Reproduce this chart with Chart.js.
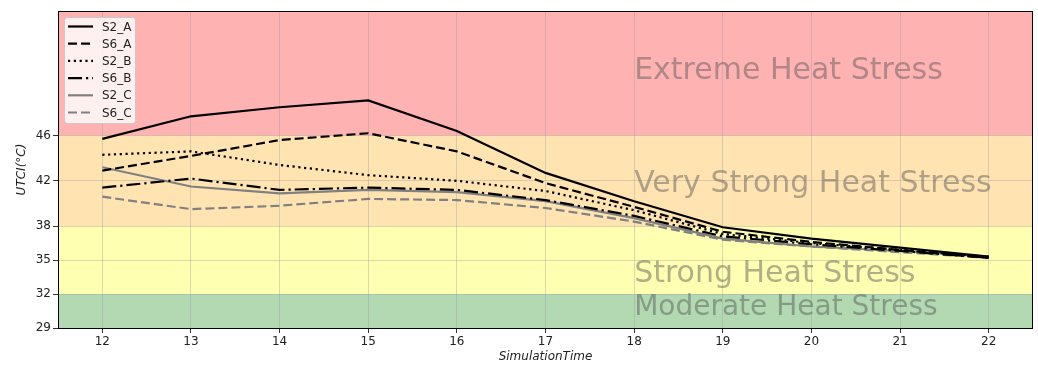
<!DOCTYPE html>
<html lang="en">
<head>
    <meta charset="UTF-8">
    <title>UTCI over simulation time</title>
    <script src="https://cdn.jsdelivr.net/npm/chart.js"></script>
    <style>
        html, body { margin: 0; padding: 0; background: #fff; }
        #box { width: 1038px; height: 365px; }
    </style>
</head>
<body>
    <div id="box"><canvas id="utciChart"></canvas></div>

    <script>
        // simulation hours
        var hours = [12, 13, 14, 15, 16, 17, 18, 19, 20, 21, 22];

        // UTCI (°C) per scenario
        var s2A = [45.7, 47.7, 48.5, 49.1, 46.4, 42.7, 40.2, 37.9, 36.9, 36.1, 35.3];
        var s6A = [42.9, 44.2, 45.6, 46.2, 44.6, 41.8, 39.7, 37.5, 36.6, 35.9, 35.2];
        var s2B = [44.3, 44.6, 43.4, 42.5, 42.0, 41.1, 39.4, 37.3, 36.5, 35.9, 35.3];
        var s6B = [41.4, 42.2, 41.2, 41.4, 41.2, 40.3, 38.9, 37.1, 36.4, 35.8, 35.2];
        var s2C = [43.2, 41.5, 40.9, 41.2, 41.0, 40.2, 38.7, 36.9, 36.2, 35.8, 35.3];
        var s6C = [40.6, 39.5, 39.8, 40.4, 40.3, 39.6, 38.4, 36.8, 36.2, 35.7, 35.2];

        var yTicks = [29, 32, 35, 38, 42, 46];

        // heat stress zones (lower, upper) and their names
        var zoneLow  = [29, 32, 38, 46];
        var zoneHigh = [32, 38, 46, 57];
        var zoneNames = ['Moderate Heat Stress', 'Strong Heat Stress', 'Very Strong Heat Stress', 'Extreme Heat Stress'];
        var zoneLabelY = [30.15, 33.1, 41, 51];
        var zoneLabelX = 18;
        var zoneFontPx = [28, 30, 30, 30];
        var zoneColors = ['rgba(0,128,0,0.3)', 'rgba(255,255,0,0.3)', 'rgba(255,165,0,0.3)', 'rgba(255,0,0,0.3)'];

        function pts(vals) {
            return hours.map(function (h, i) { return { x: h, y: vals[i] }; });
        }

        function serie(label, vals, color, dash) {
            return {
                label: label,
                data: pts(vals),
                borderColor: color,
                borderDash: dash,
                borderWidth: 2.2,
                pointRadius: 0,
                tension: 0,
                fill: false
            };
        }

        var zonesPlugin = {
            id: 'zones',
            beforeDraw: function (chart) {
                var ctx = chart.ctx, a = chart.chartArea, y = chart.scales.y;
                ctx.save();
                for (var i = 0; i < zoneLow.length; i++) {
                    var top = y.getPixelForValue(zoneHigh[i]);
                    var bot = y.getPixelForValue(zoneLow[i]);
                    ctx.fillStyle = zoneColors[i];
                    ctx.fillRect(a.left, top, a.right - a.left, bot - top);
                }
                ctx.restore();
            },
            afterDatasetsDraw: function (chart) {
                var ctx = chart.ctx, a = chart.chartArea, x = chart.scales.x, y = chart.scales.y;
                ctx.save();
                ctx.fillStyle = 'rgba(80,80,80,0.45)';
                ctx.textAlign = 'left';
                ctx.textBaseline = 'alphabetic';
                for (var i = 0; i < zoneNames.length; i++) {
                    ctx.font = zoneFontPx[i] + 'px "DejaVu Sans"';
                    ctx.fillText(zoneNames[i], x.getPixelForValue(zoneLabelX), y.getPixelForValue(zoneLabelY[i]));
                }
                // frame
                ctx.strokeStyle = '#000';
                ctx.lineWidth = 1;
                ctx.strokeRect(Math.round(a.left) + 0.5, Math.round(a.top) + 0.5,
                    Math.round(a.right - a.left) - 1, Math.round(a.bottom - a.top));
                ctx.restore();
            },
            afterDraw: function (chart) {
                // legend box, top left inside plot
                var ctx = chart.ctx, a = chart.chartArea;
                var bx = a.left + 6, by = a.top + 6, bw = 71, bh = 106;
                ctx.save();
                ctx.fillStyle = 'rgba(255,255,255,0.8)';
                ctx.strokeStyle = 'rgba(200,200,200,0.9)';
                ctx.lineWidth = 1;
                ctx.beginPath();
                ctx.roundRect(bx + 0.5, by + 0.5, bw, bh, 3);
                ctx.fill();
                ctx.stroke();
                ctx.font = '12px "DejaVu Sans"';
                ctx.textBaseline = 'middle';
                chart.data.datasets.forEach(function (ds, i) {
                    var ly = by + 9.5 + i * 17.2;
                    ctx.strokeStyle = ds.borderColor;
                    ctx.lineWidth = 2.2;
                    ctx.setLineDash(ds.borderDash || []);
                    ctx.beginPath();
                    ctx.moveTo(bx + 4, ly);
                    ctx.lineTo(bx + 29, ly);
                    ctx.stroke();
                    ctx.setLineDash([]);
                    ctx.fillStyle = '#222';
                    ctx.fillText(ds.label, bx + 38, ly + 1);
                });
                ctx.restore();
            }
        };

        var ctx = document.getElementById('utciChart').getContext('2d');
        var chart = new Chart(ctx, {
            type: 'line',
            data: {
                datasets: [
                    serie('S2_A', s2A, '#000', []),
                    serie('S6_A', s6A, '#000', [9, 4]),
                    serie('S2_B', s2B, '#000', [2.2, 3.6]),
                    serie('S6_B', s6B, '#000', [14, 4, 2.2, 4]),
                    serie('S2_C', s2C, '#808080', []),
                    serie('S6_C', s6C, '#808080', [9, 4])
                ]
            },
            plugins: [zonesPlugin],
            options: {
                responsive: true,
                maintainAspectRatio: false,
                animation: false,
                layout: { padding: { top: 11, right: 5, left: 0, bottom: 0 } },
                plugins: {
                    legend: { display: false },
                    tooltip: { enabled: false }
                },
                scales: {
                    x: {
                        type: 'linear',
                        min: 11.5,
                        max: 22.5,
                        afterBuildTicks: function (s) {
                            s.ticks = hours.map(function (h) { return { value: h }; });
                        },
                        afterFit: function (s) { s.height = 37; },
                        grid: { color: 'rgba(150,150,150,0.35)', tickColor: '#333', tickLength: 5 },
                        border: { display: false },
                        ticks: { color: '#222', font: { family: 'DejaVu Sans', size: 12 }, padding: 2, maxRotation: 0 },
                        title: {
                            display: true,
                            text: 'SimulationTime',
                            color: '#222',
                            font: { family: 'DejaVu Sans', size: 12, style: 'italic' },
                            padding: { top: 0, bottom: 1 }
                        }
                    },
                    y: {
                        min: 29,
                        max: 57,
                        afterBuildTicks: function (s) {
                            s.ticks = yTicks.map(function (v) { return { value: v }; });
                        },
                        afterFit: function (s) { s.width = 58; },
                        grid: { color: 'rgba(150,150,150,0.35)', tickColor: '#333', tickLength: 5 },
                        border: { display: false },
                        ticks: { color: '#222', font: { family: 'DejaVu Sans', size: 12 }, padding: 2 },
                        title: {
                            display: true,
                            text: 'UTCI(°C)',
                            color: '#222',
                            font: { family: 'DejaVu Sans', size: 12, style: 'italic' },
                            padding: { top: 15, bottom: 0 }
                        }
                    }
                }
            }
        });
    </script>
</body>
</html>
